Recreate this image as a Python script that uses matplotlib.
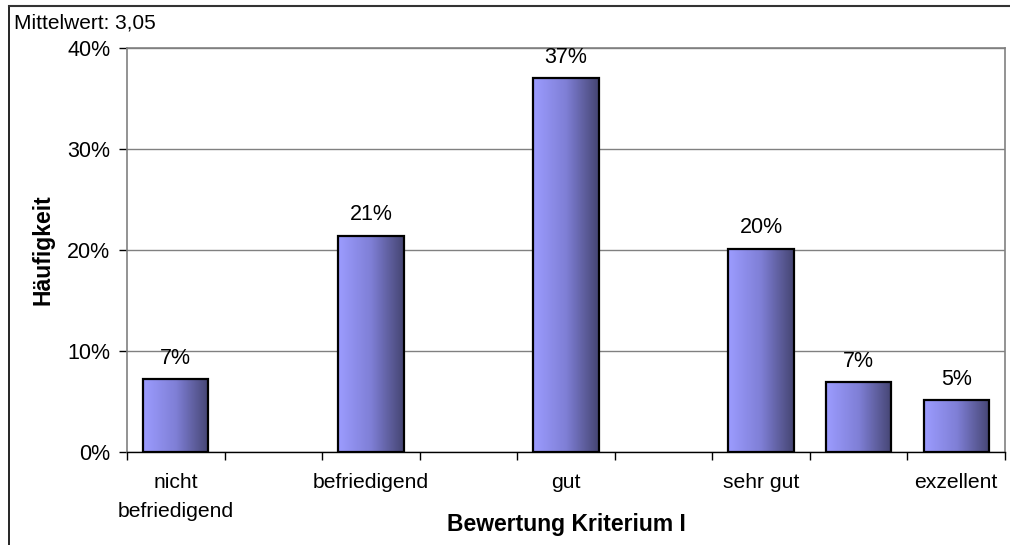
import numpy as np
import matplotlib
matplotlib.use("Agg")
import matplotlib.pyplot as plt
from matplotlib.colors import LinearSegmentedColormap
from matplotlib.patches import Rectangle
from matplotlib.lines import Line2D

plt.rcParams['font.family'] = ['Liberation Sans', 'DejaVu Sans']

categories = ["nicht\nbefriedigend", "", "befriedigend", "", "gut", "", "sehr gut", "", "exzellent"]
values = [7.2, np.nan, 21.4, np.nan, 37.0, np.nan, 20.1, 6.9, 5.1]
value_labels = ["7%", "", "21%", "", "37%", "", "20%", "7%", "5%"]
yticks = [0, 10, 20, 30, 40]
ytick_labels = ["0%", "10%", "20%", "30%", "40%"]
mean_text = "Mittelwert: 3,05"
xlabel = "Bewertung Kriterium I"
ylabel = "Häufigkeit"

W, H = 1010, 545
fig = plt.figure(figsize=(W / 100, H / 100), dpi=100)
ax = fig.add_axes([127 / W, 1 - 452 / H, (1005 - 127) / W, (452 - 48) / H])

n = len(categories)
x = np.arange(n)
bar_w = 0.67
cmap = LinearSegmentedColormap.from_list("g", ["#9c9cff", "#7f7fd6", "#454572"])
grad = np.linspace(0, 1, 256).reshape(1, -1)

ax.set_xlim(-0.5, n - 0.5)
ax.set_ylim(0, 40)

for i, v in enumerate(values):
    if np.isnan(v):
        continue
    x0 = x[i] - bar_w / 2
    im = ax.imshow(grad, cmap=cmap, aspect='auto', extent=(x0, x0 + bar_w, 0, v),
                   zorder=3, interpolation='bicubic')
    rect = Rectangle((x0, 0), bar_w, v, facecolor='none', edgecolor='black',
                     linewidth=1.6, zorder=4)
    ax.add_patch(rect)
    im.set_clip_path(rect)
    ax.text(x[i], v + 1.55, value_labels[i], ha='center', va='baseline',
            fontsize=15.5, zorder=5)

ax.set_xlim(-0.5, n - 0.5)
ax.set_ylim(0, 40)

ax.set_yticks(yticks)
ax.set_yticklabels(ytick_labels, fontsize=15.5)
ax.yaxis.grid(True, color='#808080', linewidth=1.0, zorder=0)
ax.set_axisbelow(True)

# tick marks at slot boundaries, labels at centers
ax.set_xticks(np.arange(-0.5, n, 1.0))
ax.set_xticklabels([])
ax.set_xticks(x, minor=True)
ax.set_xticklabels(categories, minor=True, fontsize=15.2, linespacing=1.65, va='top')
ax.tick_params(axis='x', which='minor', length=0, pad=15)
ax.tick_params(axis='x', which='major', length=6, width=1, color='black', direction='out')
ax.tick_params(axis='y', length=6, width=1, color='black', direction='out', pad=6)

for s in ['top', 'right', 'left']:
    ax.spines[s].set_color('#808080')
    ax.spines[s].set_linewidth(1.2)
ax.spines['bottom'].set_color('black')
ax.spines['bottom'].set_linewidth(1.0)

ax.set_xlabel(xlabel, fontsize=16.5, fontweight='bold')
ax.xaxis.set_label_coords(0.5, (452 - 525) / 404)
ax.xaxis.label.set_va('center')
ax.set_ylabel(ylabel, fontsize=16.5, fontweight='bold')
ax.yaxis.set_label_coords((43 - 127) / 878, 0.5)
ax.yaxis.label.set_va('center')

fig.text(14 / W, 1 - 23 / H, mean_text, fontsize=15, ha='left', va='center')

# outer frame (left and top edge)
fig.add_artist(Line2D([8.5 / W, 8.5 / W], [0, 1 - 6 / H], transform=fig.transFigure,
                      color='black', linewidth=1.2))
fig.add_artist(Line2D([8.5 / W, 1], [1 - 6 / H, 1 - 6 / H], transform=fig.transFigure,
                      color='#333333', linewidth=1.5))

fig.savefig("out.png", dpi=100)
